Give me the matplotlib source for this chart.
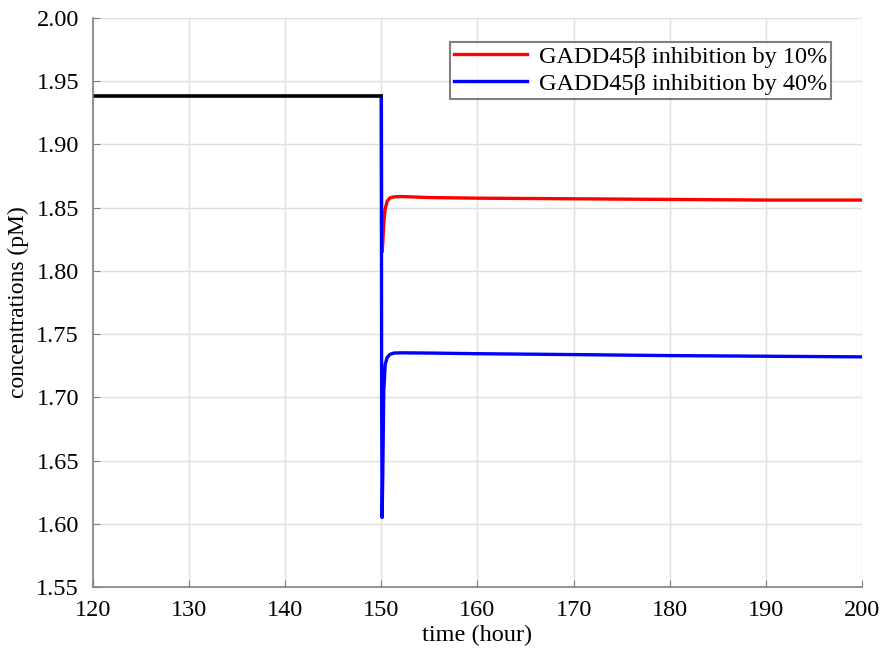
#!/usr/bin/env python3
"""
GADD45b inhibition: concentration time course
"""

import matplotlib

matplotlib.use("Agg")
import matplotlib.pyplot as plt

# before the perturbation (common baseline)
t_base = [120, 150]
c_base = [1.938, 1.938]

# after the perturbation at t = 150 h
t_after = [150.0, 150.03, 150.08, 150.15, 150.25, 150.4, 150.6, 150.9, 151.3,
           152.0, 155, 160, 170, 180, 190, 200]
c_10 = [1.938, 1.83, 1.815, 1.822, 1.838, 1.849, 1.855, 1.8578, 1.8585,
        1.8588, 1.858, 1.8575, 1.857, 1.8565, 1.856, 1.856]
c_40 = [1.938, 1.70, 1.605, 1.64, 1.705, 1.726, 1.7315, 1.734, 1.735,
        1.7352, 1.735, 1.7345, 1.7338, 1.733, 1.7325, 1.732]

labels = ["GADD45\u03b2 inhibition by 10%", "GADD45\u03b2 inhibition by 40%"]

x_ticks = [120, 130, 140, 150, 160, 170, 180, 190, 200]
y_ticks = [1.55, 1.60, 1.65, 1.70, 1.75, 1.80, 1.85, 1.90, 1.95, 2.00]

plt.rcParams["font.family"] = ["Liberation Serif", "DejaVu Serif"]

fig = plt.figure(figsize=(8.82, 6.51), dpi=100)
ax = fig.add_axes([0.1054, 0.0983, 0.8719, 0.8741])

ax.plot(t_after, c_10, color="#ff0000", lw=2.4, label=labels[0])
ax.plot(t_after, c_40, color="#0000ff", lw=2.4, label=labels[1])
ax.plot(t_base, c_base, color="black", lw=2.6)

ax.set_xlim(120, 200)
ax.set_ylim(1.55, 2.00)
ax.set_xticks(x_ticks)
ax.set_yticks(y_ticks)
ax.set_yticklabels([f"{v:.2f}" for v in y_ticks])
ax.grid(True, color="#e0e0e0", lw=1.0)
ax.set_axisbelow(True)

for side in ["top", "right"]:
    ax.spines[side].set_visible(False)
for side in ["left", "bottom"]:
    ax.spines[side].set_color("#808080")
    ax.spines[side].set_linewidth(1.2)
ax.tick_params(direction="in", color="#808080", length=5, labelsize=17.5)
ax.tick_params(axis="x", pad=9)
ax.tick_params(axis="y", pad=10)

ax.set_xlabel("time (hour)", fontsize=17.5, labelpad=3)
ax.set_ylabel("concentrations (pM)", fontsize=17, labelpad=5)

leg = ax.legend(loc="upper right", bbox_to_anchor=(0.969, 0.97), fontsize=17.5,
                frameon=True, fancybox=False, handlelength=3.0,
                borderpad=0.15, labelspacing=0.2, handletextpad=0.5,
                borderaxespad=0.3)
leg.get_frame().set_edgecolor("#606060")
leg.get_frame().set_linewidth(1.5)

plt.savefig("out.png", dpi=100)
